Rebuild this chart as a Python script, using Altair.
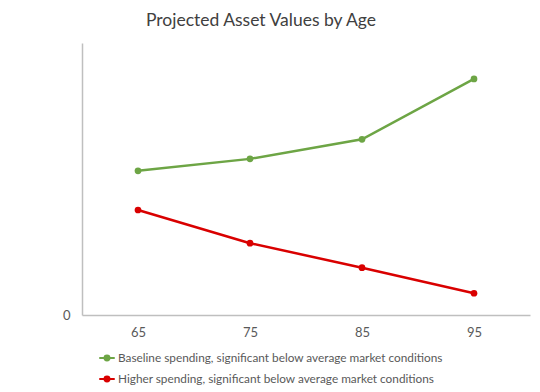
import altair as alt
import pandas as pd

ages = ["65", "75", "85", "95"]
series_names = [
    "Baseline spending, significant below average market conditions",
    "Higher spending, significant below average market conditions",
]
baseline_values = [53.0, 57.4, 64.6, 86.8]
higher_values = [38.6, 26.4, 17.4, 8.0]
colors = ["#6DA545", "#D90000"]

rows = []
for a, v in zip(ages, baseline_values):
    rows.append({"age": a, "value": v, "series": series_names[0]})
for a, v in zip(ages, higher_values):
    rows.append({"age": a, "value": v, "series": series_names[1]})
df = pd.DataFrame(rows)

FONT = "Lato"
legend_symbol = "M-1,0L1,0M-0.32,0A0.32,0.32 0 1,1 0.32,0A0.32,0.32 0 1,1 -0.32,0Z"

base = alt.Chart(df).encode(
    x=alt.X("age:N", sort=ages, title=None,
            scale=alt.Scale(paddingInner=0, paddingOuter=0.5),
            axis=alt.Axis(labelAngle=0, ticks=False, domainColor="#BFBFBF",
                          domainWidth=1.5, labelColor="#595959", labelFontSize=13,
                          labelFont=FONT, labelPadding=11, grid=False)),
    y=alt.Y("value:Q", title=None,
            scale=alt.Scale(domain=[0, 100], nice=False),
            axis=alt.Axis(values=[0], ticks=False, grid=False, domainColor="#BFBFBF",
                          domainWidth=1.5, labelColor="#595959", labelFontSize=13,
                          labelFont=FONT, labelPadding=12)),
    color=alt.Color("series:N", sort=series_names,
                    scale=alt.Scale(domain=series_names, range=colors),
                    legend=alt.Legend(title=None, orient="none", legendX=16, legendY=306,
                                      direction="vertical", symbolType=legend_symbol,
                                      symbolSize=240, symbolStrokeWidth=2,
                                      labelFont=FONT, labelFontSize=11.8, labelLimit=0,
                                      labelColor="#595959", rowPadding=5,
                                      labelOffset=2, symbolOffset=0)),
)

lines = base.mark_line(strokeWidth=2.5)
points = base.mark_circle(size=45, opacity=1)

chart = alt.layer(lines, points).properties(
    width=448, height=272,
    title=alt.TitleParams("Projected Asset Values by Age", font=FONT, fontSize=17.5,
                          fontWeight="normal", color="#404040", anchor="middle",
                          offset=14, dx=-45),
    autosize=alt.AutoSizeParams(type="none"),
    padding={"left": 74, "top": 35, "right": 2, "bottom": 76},
).configure_view(stroke=None)

chart.save("out.html", embed_options={"renderer": "svg", "actions": False})
